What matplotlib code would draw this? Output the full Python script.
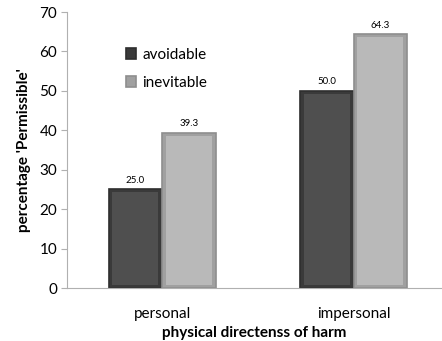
import matplotlib

matplotlib.use("Agg")
import matplotlib.pyplot as plt
import numpy as np

plt.rcParams["font.family"] = ["Lato", "DejaVu Sans"]

categories = ["personal", "impersonal"]
series_names = ["avoidable", "inevitable"]
avoidable = [25.0, 50.0]
inevitable = [39.3, 64.3]

face_colors = ["#4f4f4f", "#b9b9b9"]
edge_colors = ["#2e2e2e", "#8e8e8e"]
rim_colors = ["#3a3a3a", "#a0a0a0"]

fig = plt.figure(figsize=(4.42, 3.41), dpi=100)
ax = fig.add_axes([67 / 442, 1 - 288 / 341, 374 / 442, 276 / 341])

x = np.arange(len(categories))
width = 0.28
offsets = [-width / 2, width / 2]

for vals, off, fc, ec, rc, name in zip(
    [avoidable, inevitable], offsets, face_colors, edge_colors, rim_colors, series_names
):
    # outer rim gives the bevelled look
    ax.bar(x + off, vals, width=width, color=rc, edgecolor=ec, linewidth=1.2, label=name)
    inner = [v - 1.4 for v in vals]
    ax.bar(x + off, inner, width=width * 0.86, bottom=0.7, color=fc, edgecolor="none")
    for xi, v in zip(x + off, vals):
        ax.text(xi, v + 1.2, f"{v:.1f}", ha="center", va="bottom", fontsize=7)

ax.set_xlim(-0.497, 1.457)
ax.set_ylim(0, 70)
ax.set_yticks(range(0, 71, 10))
ax.set_xticks(x)
ax.set_xticklabels(categories, fontsize=11)
ax.tick_params(axis="y", labelsize=11, length=4, color="#b0b0b0", pad=3)
ax.tick_params(axis="x", length=0, pad=14)

for side in ["top", "right"]:
    ax.spines[side].set_visible(False)
ax.spines["left"].set_color("#b0b0b0")
ax.spines["bottom"].set_color("#b0b0b0")

ax.set_ylabel("percentage 'Permissible'", fontsize=11, fontweight="bold", labelpad=6)
ax.set_xlabel("physical directenss of harm", fontsize=11, fontweight="bold", labelpad=3)

ax.legend(
    loc="upper left",
    bbox_to_anchor=(0.12, 0.92),
    frameon=False,
    fontsize=11,
    handlelength=0.7,
    handleheight=0.7,
    handletextpad=0.4,
    labelspacing=0.9,
)

fig.savefig("out.png", dpi=100)
